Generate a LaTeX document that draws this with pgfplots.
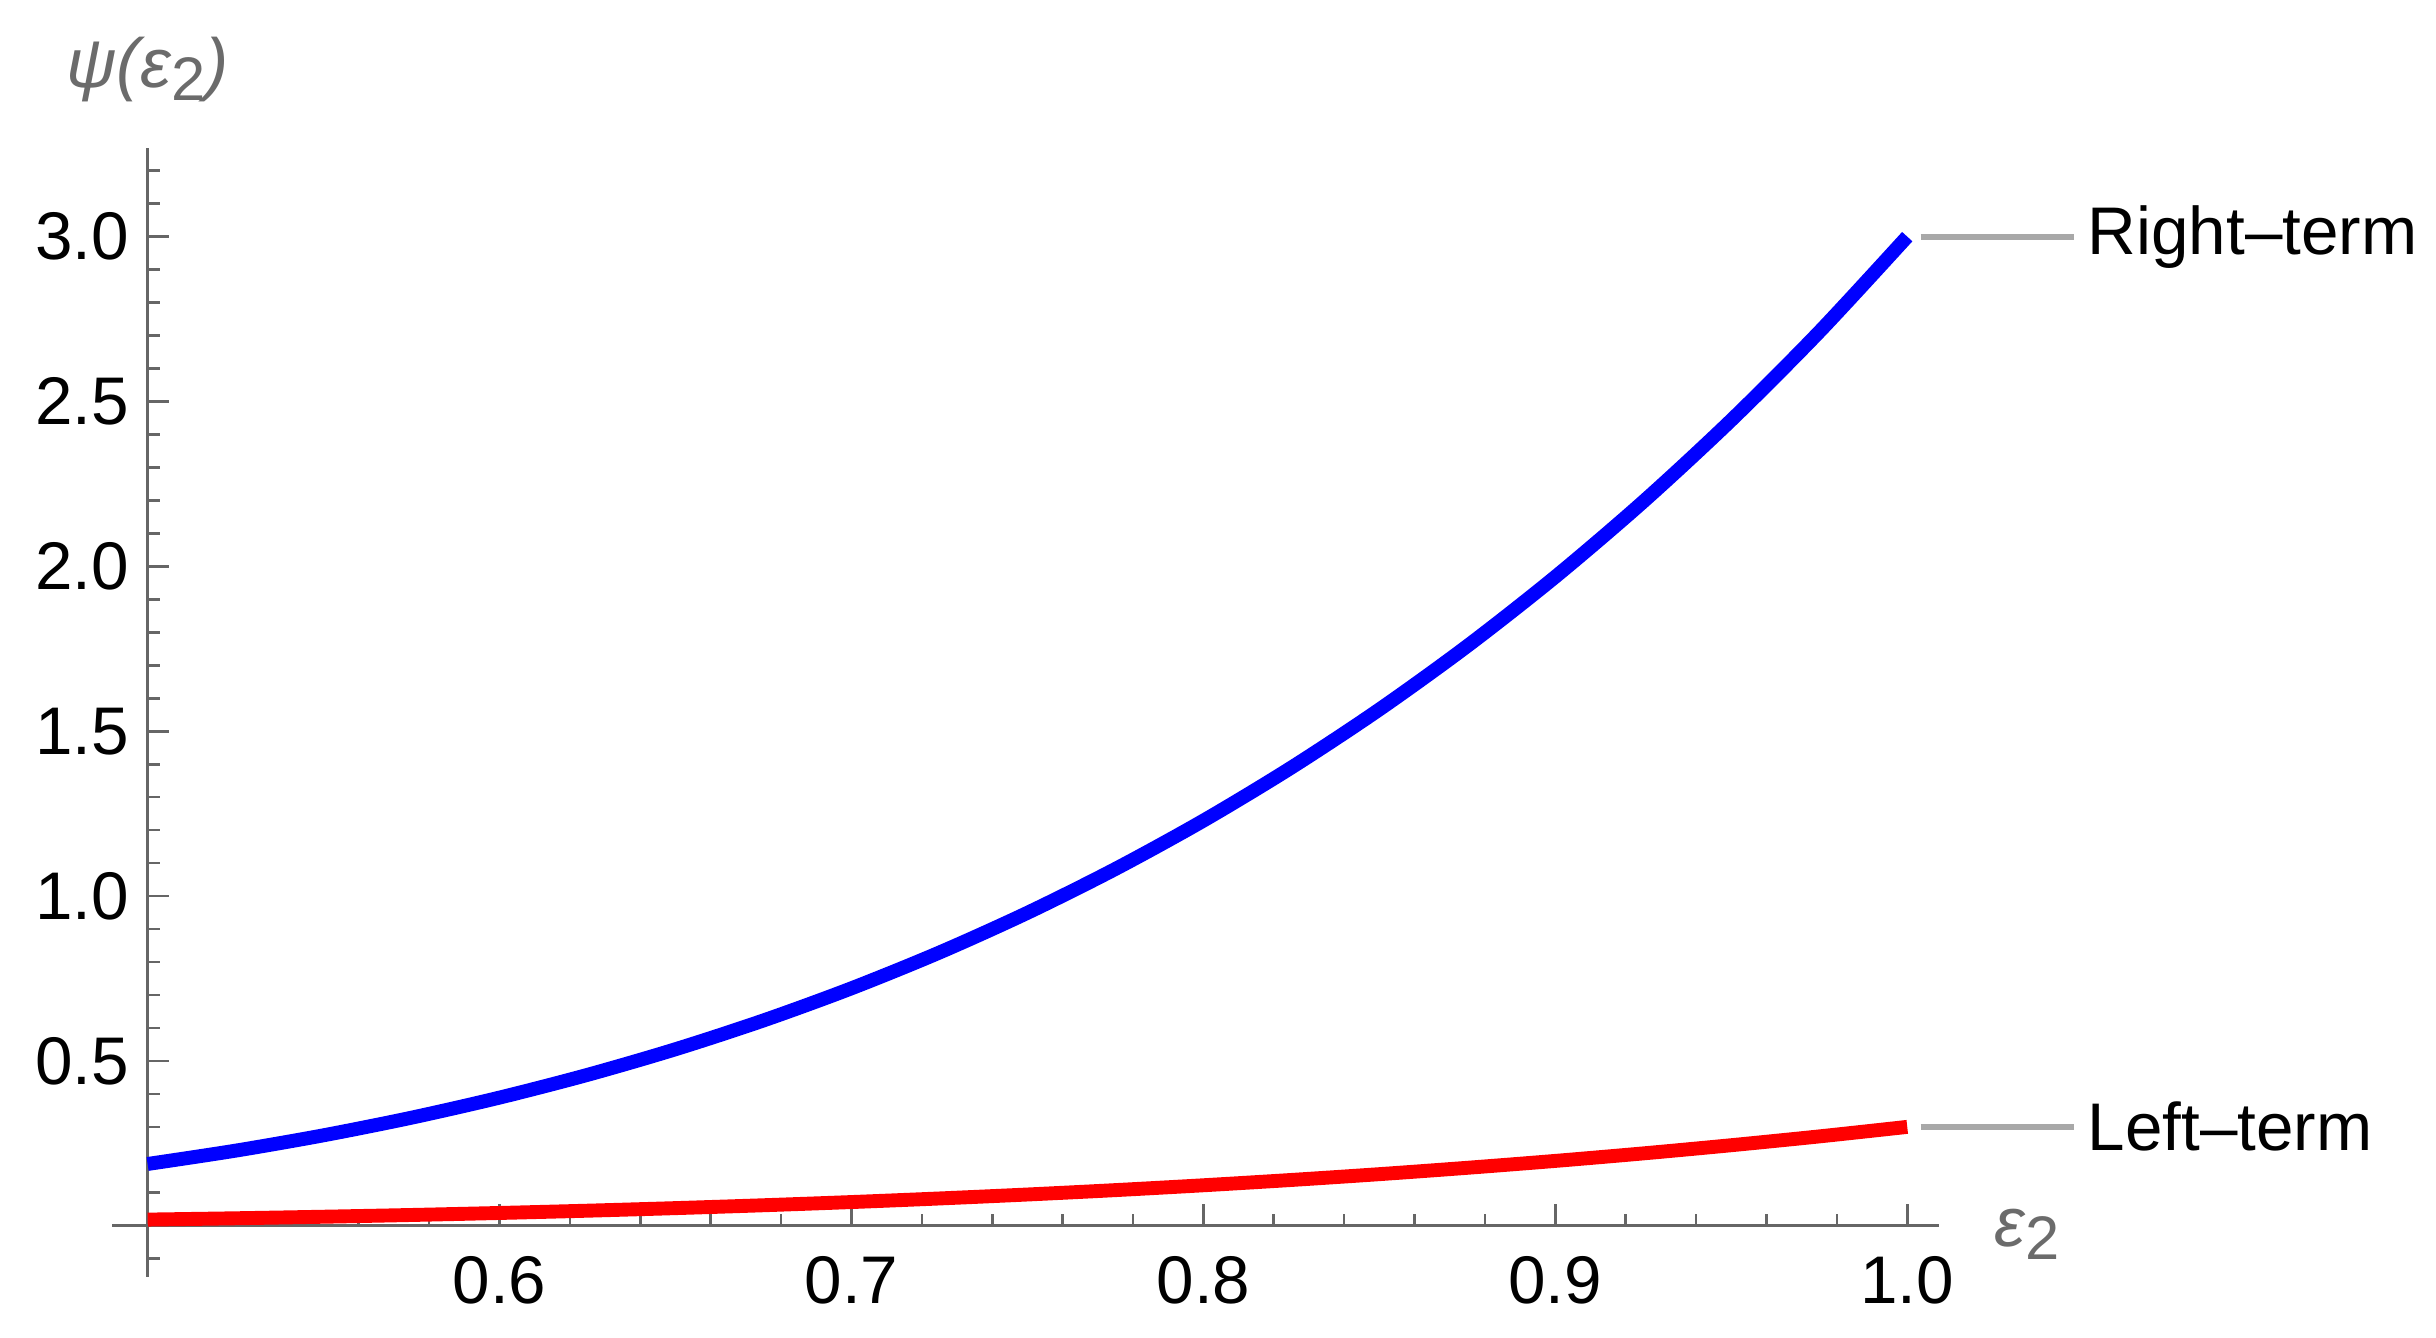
\documentclass[border=0pt]{standalone}
\usepackage{fontspec}
\setmainfont{Liberation Sans}
\usepackage{pgfplots}
\pgfplotsset{compat=1.18}
\definecolor{axgray}{gray}{0.4}
\definecolor{lblgray}{gray}{0.42}
\definecolor{annot}{gray}{0.66}
\begin{document}
\begin{tikzpicture}
\begin{axis}[
  scale only axis, width=11.77cm, height=7.42cm,
  xmin=0.5, xmax=1.009, ymin=-0.155, ymax=3.27,
  axis x line=middle, axis y line=left,
  axis line style={-, axgray, line width=0.5pt},
  xtick={0.6,0.7,0.8,0.9,1.0},
  minor xtick={0.52,0.54,0.56,0.58,0.62,0.64,0.66,0.68,0.72,0.74,0.76,0.78,0.82,0.84,0.86,0.88,0.92,0.94,0.96,0.98},
  ytick={0.5,1.0,1.5,2.0,2.5,3.0},
  minor ytick={-0.1,0,0.1,0.2,0.3,0.4,0.6,0.7,0.8,0.9,1.1,1.2,1.3,1.4,1.6,1.7,1.8,1.9,2.1,2.2,2.3,2.4,2.6,2.7,2.8,2.9,3.1,3.2},
  tick align=inside, major tick length=0.14cm, minor tick length=0.08cm,
  tick style={axgray, line width=0.5pt},
  /pgf/number format/assume math mode=true,
  /pgf/number format/fixed, /pgf/number format/fixed zerofill, /pgf/number format/precision=1,
  every tick label/.append style={font=\fontsize{12.6}{15}\selectfont, text=black},
  xticklabel style={yshift=-0.08cm},
  clip=false,
]
\path (rel axis cs:-0.0824,-0.0536) rectangle (rel axis cs:1.2775,1.1307);
\addplot[blue, line width=2.6pt, smooth] coordinates {
(0.500,0.1875) (0.525,0.2279) (0.550,0.2745) (0.575,0.3279) (0.600,0.3888)
(0.625,0.4578) (0.650,0.5355) (0.675,0.6228) (0.700,0.7203) (0.725,0.8288)
(0.750,0.9492) (0.775,1.0823) (0.800,1.2288) (0.825,1.3898) (0.850,1.5660)
(0.875,1.7585) (0.900,1.9683) (0.925,2.1963) (0.950,2.4435) (0.975,2.7111)
(1.000,3.0000)};
\addplot[red, line width=2.6pt, smooth] coordinates {
(0.500,0.0188) (0.525,0.0228) (0.550,0.0275) (0.575,0.0328) (0.600,0.0389)
(0.625,0.0458) (0.650,0.0536) (0.675,0.0623) (0.700,0.0720) (0.725,0.0829)
(0.750,0.0949) (0.775,0.1082) (0.800,0.1229) (0.825,0.1390) (0.850,0.1566)
(0.875,0.1759) (0.900,0.1968) (0.925,0.2196) (0.950,0.2444) (0.975,0.2711)
(1.000,0.3000)};
\draw[axgray, line width=0.5pt] (axis cs:0.49,0) -- (axis cs:0.5,0);
\draw[annot, line width=1.1pt] (axis cs:1.0038,3.0) -- (axis cs:1.0475,3.0);
\draw[annot, line width=1.1pt] (axis cs:1.0038,0.3) -- (axis cs:1.0475,0.3);
\node[anchor=west, inner sep=0pt, font=\fontsize{12.6}{15}\selectfont] at (axis cs:1.051,3.0) {Right–term};
\node[anchor=west, inner sep=0pt, font=\fontsize{12.6}{15}\selectfont] at (axis cs:1.051,0.3) {Left–term};
\node[text=lblgray, font=\fontsize{13}{15}\selectfont] at (rel axis cs:0,1.0688) {\textit{ψ(ε}\raisebox{-0.35ex}{\fontsize{11.5}{13}\selectfont 2}\textit{)}};
\node[text=lblgray, font=\fontsize{13}{15}\selectfont] at (rel axis cs:1.0494,0.0380) {\textit{ε}\raisebox{-0.35ex}{\fontsize{11.5}{13}\selectfont 2}};
\end{axis}
\end{tikzpicture}
\end{document}
